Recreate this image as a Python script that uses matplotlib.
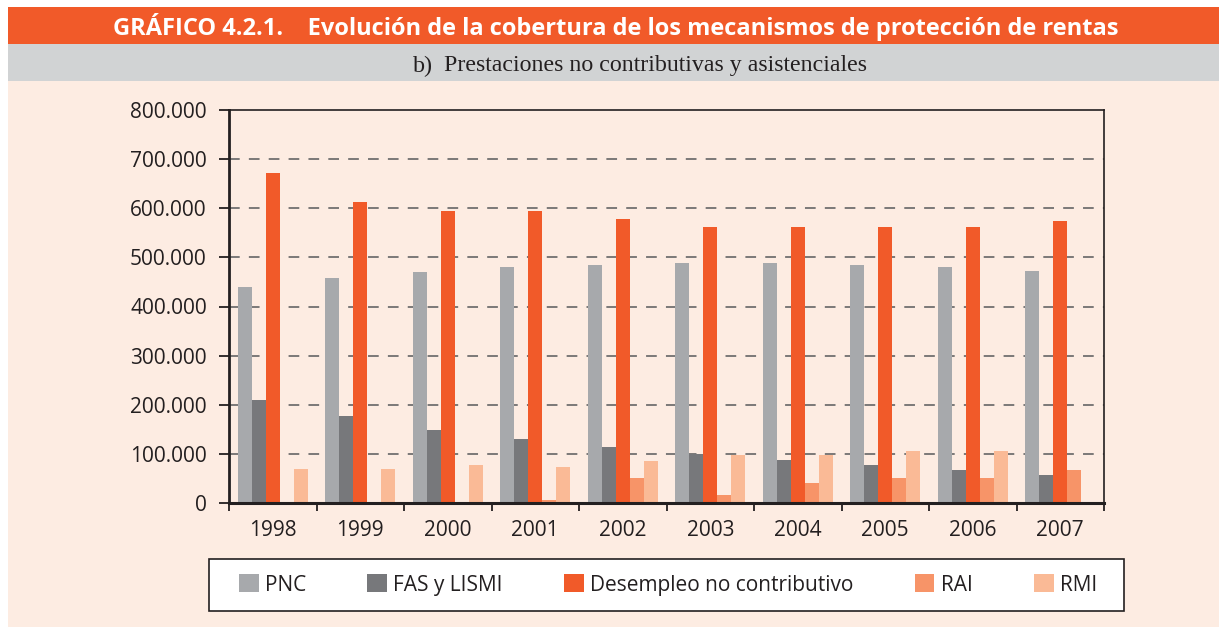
import matplotlib
matplotlib.use("Agg")
import matplotlib.pyplot as plt
import numpy as np
from matplotlib.patches import Rectangle
from matplotlib.ticker import FuncFormatter

years = ["1998", "1999", "2000", "2001", "2002", "2003", "2004", "2005", "2006", "2007"]
series_names = ["PNC", "FAS y LISMI", "Desempleo no contributivo", "RAI", "RMI"]
pnc = [440000, 459000, 471000, 481000, 485000, 489000, 489000, 485000, 481000, 473000]
fas = [209000, 177000, 148000, 130000, 114000, 100000, 87000, 77000, 67000, 57000]
desempleo = [671000, 613000, 594000, 594000, 579000, 561000, 561000, 561000, 561000, 575000]
rai = [0, 0, 3000, 7000, 50000, 17000, 40000, 50000, 50000, 68000]
rmi = [70000, 70000, 78000, 74000, 85000, 97000, 97000, 105000, 105000, 0]
yticks = [0, 100000, 200000, 300000, 400000, 500000, 600000, 700000, 800000]

colors = ["#A7A9AC", "#77787B", "#F15A29", "#F79468", "#FABA96"]
bg = "#FDECE2"

W, H = 1219, 628
fig = plt.figure(figsize=(W / 100, H / 100), dpi=100)
fig.patch.set_facecolor("white")

def fx(px):
    return px / W

def fy(py):
    return 1 - py / H

# background bands
fig.patches.append(Rectangle((fx(8), fy(627)), fx(W - 8), fy(81) - fy(627),
                             transform=fig.transFigure, facecolor=bg, edgecolor="none", zorder=-5))
fig.patches.append(Rectangle((fx(8), fy(44)), fx(W - 8), fy(7) - fy(44),
                             transform=fig.transFigure, facecolor="#F15A29", edgecolor="none", zorder=-5))
fig.patches.append(Rectangle((fx(8), fy(81)), fx(W - 8), fy(44) - fy(81),
                             transform=fig.transFigure, facecolor="#D1D3D4", edgecolor="none", zorder=-5))
# legend box
fig.patches.append(Rectangle((fx(209), fy(611)), fx(1124) - fx(209), fy(559) - fy(611),
                             transform=fig.transFigure, facecolor="white", edgecolor="#231F20",
                             linewidth=1.2, zorder=-4))

fig.text(fx(616), fy(27), "GRÁFICO 4.2.1.    Evolución de la cobertura de los mecanismos de protección de rentas",
         ha="center", va="center", color="white", fontsize=17, fontweight="bold", family="Open Sans")
fig.text(fx(413), fy(66), "b)", ha="left", va="center", color="#231F20", fontsize=17.4,
         family="Liberation Serif")
fig.text(fx(444), fy(66), "Prestaciones no contributivas y asistenciales", ha="left", va="center",
         color="#231F20", fontsize=17.2, family="Liberation Serif")

ax = fig.add_axes([fx(229), fy(503), fx(1104) - fx(229), fy(110) - fy(503)])
ax.set_zorder(2)
ax.set_facecolor(bg)

x = np.arange(len(years))
data = [pnc, fas, desempleo, rai, rmi]
bw = 0.16
for i, (vals, name, c) in enumerate(zip(data, series_names, colors)):
    ax.bar(x + (i - 2) * bw, vals, width=bw, color=c, label=name, zorder=3, linewidth=0)

ax.set_xlim(-0.5, len(years) - 0.5)
ax.set_ylim(0, 800000)
ax.set_yticks(yticks)
ax.yaxis.set_major_formatter(FuncFormatter(lambda v, p: f"{int(v):,}".replace(",", ".")))
for v in yticks[1:-1]:
    ax.axhline(v, color="#58595B", linewidth=1.1, linestyle=(0, (7, 6)), zorder=2)

ax.set_xticks(np.arange(-0.5, len(years), 1.0))
ax.set_xticklabels([])
ax.set_xticks(x, minor=True)
ax.set_xticklabels(years, minor=True)
ax.tick_params(axis="x", which="major", direction="out", length=6, width=1.3, color="#231F20")
ax.tick_params(axis="x", which="minor", length=0, pad=12, labelsize=15, labelcolor="#231F20")
ax.tick_params(axis="y", direction="out", length=7, width=1.3, color="#231F20", labelsize=15,
               labelcolor="#231F20", pad=9)
for lab in ax.get_xticklabels(minor=True) + ax.get_yticklabels():
    lab.set_family("Open Sans")

ax.spines["left"].set_linewidth(2)
ax.spines["bottom"].set_linewidth(2.2)
ax.spines["top"].set_linewidth(1.2)
ax.spines["right"].set_linewidth(1.2)
for s in ax.spines.values():
    s.set_color("#231F20")
    s.set_zorder(4)

leg = fig.legend(loc="center", bbox_to_anchor=(fx(239), fy(595), fx(1097) - fx(239), fy(575) - fy(595)),
                 ncol=5, mode="expand", frameon=False, handlelength=0.95, handleheight=0.95,
                 handletextpad=0.3, borderpad=0, borderaxespad=0,
                 prop={"family": "Open Sans", "size": 15})
for t in leg.get_texts():
    t.set_color("#231F20")

fig.savefig("out.png", dpi=100, facecolor=fig.get_facecolor())
